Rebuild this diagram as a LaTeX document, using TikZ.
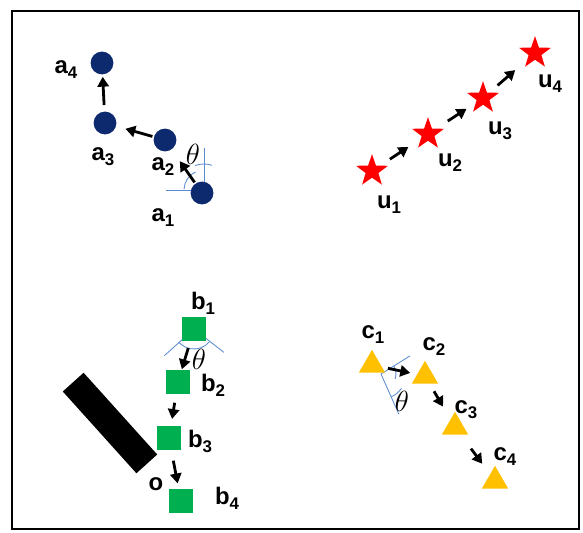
\documentclass[tikz,border=0pt]{standalone}
\usepackage{fontspec}
\setmainfont{Liberation Sans}
\usepackage{xcolor}
\definecolor{agentBlue}{HTML}{0E2A6E}
\definecolor{goalRed}{HTML}{FF0000}
\definecolor{boxGreen}{HTML}{00B050}
\definecolor{triYellow}{HTML}{FFC000}
\definecolor{angleBlue}{HTML}{5B8BD0}
\usetikzlibrary{arrows.meta,shapes.geometric,calc,positioning}

% letter with a lowered index, as the markers are labelled
\newcommand{\idx}[2]{#1\raisebox{-3.5pt}{\fontsize{12}{12}\selectfont #2}}

\tikzset{
  dot/.style={circle, fill=agentBlue, minimum size=0.57cm, inner sep=0pt},
  redstar/.style={star, star points=5, star point ratio=2.5, fill=goalRed, minimum size=0.84cm, inner sep=0pt},
  sqbox/.style={rectangle, fill=boxGreen, minimum size=0.6cm, inner sep=0pt},
  tri/.style={regular polygon, regular polygon sides=3, fill=triYellow, minimum size=0.76cm, inner sep=0pt},
  bar/.style={rectangle, fill=black, minimum width=2.75cm, minimum height=0.7cm, inner sep=0pt},
  lbl/.style={font=\fontsize{17}{17}\selectfont\bfseries, inner sep=0pt},
  ang/.style={font=\fontsize{22}{22}\selectfont, inner sep=0pt},
  move/.style={-{Triangle[length=7pt,width=8pt]}, line width=2pt},
  guide/.style={angleBlue, line width=0.6pt},
}

\begin{document}
\begin{tikzpicture}[x=0.025cm, y=-0.025cm]
    \useasboundingbox (0,0) rectangle (583,532);
    \draw[line width=2.1pt] (12,11) rectangle (579,529);

    % --- angle guides (drawn first, markers sit on top) ---
    \draw[guide] (204,190) -- (204,148);
    \draw[guide] (204,190) -- (166,190);
    \draw[guide] (204,190) ++(-115:20) arc[start angle=-115, end angle=-178, radius=20];
    \draw[guide] (204,190) ++(-72:26) arc[start angle=-72, end angle=-110, radius=26];

    \draw[guide] (194,329) -- ++(138:40);
    \draw[guide] (194,329) -- ++(38:38);
    \draw[guide] (194,329) ++(40:20) arc[start angle=40, end angle=140, radius=20];

    \draw[guide] (381,374) -- ++(-32:34);
    \draw[guide] (381,374) -- ++(66:44);
    \draw[guide] (381,374) ++(-32:15) arc[start angle=-32, end angle=20, radius=15];
    \draw[guide] (381,374) ++(35:25) arc[start angle=35, end angle=66, radius=25];

    % --- agent a ---
    \node[dot] (a1) at (202,193) {};
    \node[dot] (a2) at (165,140) {};
    \node[dot] (a3) at (105,123) {};
    \node[dot] (a4) at (102,63) {};
    \node[lbl] (la1) at (163,218) {\idx{a}{1}};
    \node[lbl] (la2) at (163,167) {\idx{a}{2}};
    \node[lbl] (la3) at (103,157) {\idx{a}{3}};
    \node[lbl] (la4) at (66,70) {\idx{a}{4}};
    \node[ang] (tha) at (193,154) {$\theta$};
    \draw[move] ($(a1)!0.2!(a2)$) -- ($(a1)!0.6!(a2)$);
    \draw[move] ($(a2)!0.21!(a3)$) -- ($(a2)!0.66!(a3)$);
    \draw[move] ($(a3)!0.3!(a4)$) -- ($(a3)!0.77!(a4)$);

    % --- goal path u ---
    \node[redstar] (u1) at (372,171) {};
    \node[redstar] (u2) at (428,134) {};
    \node[redstar] (u3) at (483,98) {};
    \node[redstar] (u4) at (535,53) {};
    \node[lbl] (lu1) at (389,205) {\idx{u}{1}};
    \node[lbl] (lu2) at (450,163) {\idx{u}{2}};
    \node[lbl] (lu3) at (500,131) {\idx{u}{3}};
    \node[lbl] (lu4) at (550,84) {\idx{u}{4}};
    \draw[move] ($(u1)!0.32!(u2)$) -- ($(u1)!0.65!(u2)$);
    \draw[move] ($(u2)!0.36!(u3)$) -- ($(u2)!0.7!(u3)$);
    \draw[move] ($(u3)!0.28!(u4)$) -- ($(u3)!0.62!(u4)$);

    % --- path b past the obstacle ---
    \node[bar, rotate=-48] (obst) at (110,423) {};
    \node[sqbox] (b1) at (194,329) {};
    \node[sqbox] (b2) at (178,382) {};
    \node[sqbox] (b3) at (169,438) {};
    \node[sqbox] (b4) at (181,501) {};
    \node[lbl] (lb1) at (203,303) {\idx{b}{1}};
    \node[lbl] (lb2) at (213,385) {\idx{b}{2}};
    \node[lbl] (lb3) at (200,441) {\idx{b}{3}};
    \node[lbl] (lb4) at (227,498) {\idx{b}{4}};
    \node[lbl] (lo) at (156,484) {o};
    \node[ang] (thb) at (199,359) {$\theta$};
    \draw[move] ($(b1)!0.36!(b2)$) -- ($(b1)!0.76!(b2)$);
    \draw[move] ($(b2)!0.37!(b3)$) -- ($(b2)!0.66!(b3)$);
    \draw[move] ($(b3)!0.36!(b4)$) -- ($(b3)!0.72!(b4)$);

    % --- path c ---
    \node[tri] (c1) at (372,365) {};
    \node[tri] (c2) at (425,376) {};
    \node[tri] (c3) at (455,427) {};
    \node[tri] (c4) at (495,481) {};
    \node[lbl] (lc1) at (373,335) {\idx{c}{1}};
    \node[lbl] (lc2) at (434,347) {\idx{c}{2}};
    \node[lbl] (lc3) at (466,410) {\idx{c}{3}};
    \node[lbl] (lc4) at (505,457) {\idx{c}{4}};
    \node[ang] (thc) at (402,401) {$\theta$};
    \draw[move] ($(c1)!0.3!(c2)$) -- ($(c1)!0.72!(c2)$);
    \draw[move] ($(c2)!0.3!(c3)$) -- ($(c2)!0.6!(c3)$);
    \draw[move] ($(c3)!0.4!(c4)$) -- ($(c3)!0.68!(c4)$);

\end{tikzpicture}
\end{document}
